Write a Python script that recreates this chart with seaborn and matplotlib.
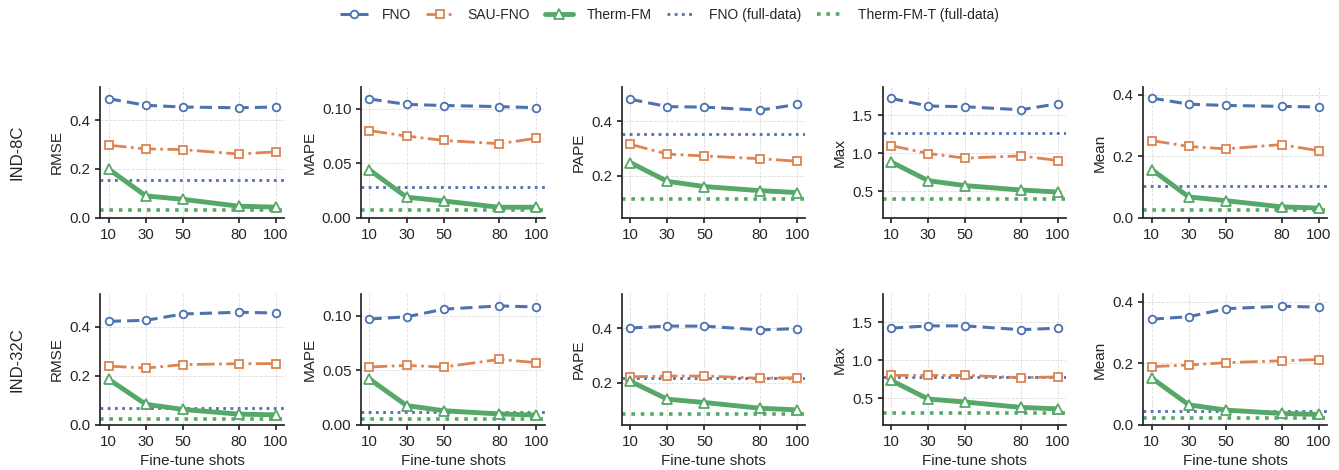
import numpy as np
import pandas as pd
import seaborn as sns
import matplotlib.pyplot as plt
from matplotlib.lines import Line2D

shots = [10, 30, 50, 80, 100]
metrics = ["RMSE", "MAPE", "PAPE", "Max", "Mean"]
settings = ["IND-8C", "IND-32C"]

# values per metric (RMSE, MAPE, PAPE, Max, Mean)
fno_8c = [[0.487, 0.460, 0.453, 0.450, 0.453],
          [0.109, 0.104, 0.103, 0.102, 0.101],
          [0.480, 0.453, 0.451, 0.440, 0.461],
          [1.72, 1.62, 1.61, 1.57, 1.65],
          [0.389, 0.369, 0.365, 0.362, 0.360]]
sau_8c = [[0.297, 0.282, 0.279, 0.261, 0.270],
          [0.080, 0.075, 0.071, 0.068, 0.073],
          [0.315, 0.279, 0.272, 0.262, 0.253],
          [1.10, 0.996, 0.935, 0.965, 0.904],
          [0.251, 0.232, 0.224, 0.238, 0.218]]
tfm_8c = [[0.199, 0.090, 0.076, 0.048, 0.044],
          [0.044, 0.019, 0.0155, 0.0098, 0.0098],
          [0.248, 0.179, 0.160, 0.145, 0.138],
          [0.887, 0.64, 0.574, 0.517, 0.49],
          [0.157, 0.068, 0.056, 0.036, 0.032]]
fno_full_8c = [0.154, 0.0287, 0.352, 1.26, 0.103]
tfmt_full_8c = [0.031, 0.007, 0.113, 0.40, 0.025]

fno_32c = [[0.423, 0.427, 0.453, 0.460, 0.457],
           [0.097, 0.099, 0.106, 0.109, 0.108],
           [0.400, 0.407, 0.407, 0.393, 0.398],
           [1.42, 1.45, 1.45, 1.40, 1.42],
           [0.343, 0.351, 0.377, 0.385, 0.382]]
sau_32c = [[0.240, 0.232, 0.246, 0.250, 0.250],
           [0.053, 0.0545, 0.053, 0.060, 0.057],
           [0.221, 0.224, 0.224, 0.216, 0.218],
           [0.80, 0.80, 0.80, 0.77, 0.78],
           [0.189, 0.194, 0.202, 0.208, 0.212]]
tfm_32c = [[0.186, 0.084, 0.063, 0.044, 0.041],
           [0.042, 0.0177, 0.013, 0.010, 0.009],
           [0.205, 0.139, 0.127, 0.106, 0.100],
           [0.735, 0.49, 0.45, 0.38, 0.36],
           [0.152, 0.065, 0.048, 0.037, 0.034]]
fno_full_32c = [0.068, 0.0119, 0.218, 0.78, 0.0446]
tfmt_full_32c = [0.026, 0.0058, 0.084, 0.30, 0.023]

ylims = [(0, 0.535), (0, 0.12), (0.045, 0.525), (0.15, 1.87), (0, 0.425)]

sns.set_theme(style="ticks")
plt.rcParams['font.family'] = ['Liberation Sans', 'DejaVu Sans']
pal = sns.color_palette("deep")
c_fno, c_sau, c_tfm = pal[0], pal[1], pal[2]

fno_style = dict(color=c_fno, ls=(0, (4, 2)), lw=2.2, marker='o', markersize=5.5,
                 markerfacecolor='white', markeredgecolor=c_fno, markeredgewidth=1.3)
sau_style = dict(color=c_sau, ls='-.', lw=2, marker='s', markersize=5.5,
                 markerfacecolor='white', markeredgecolor=c_sau, markeredgewidth=1.3)
tfm_style = dict(color=c_tfm, ls='-', lw=3.5, marker='^', markersize=7,
                 markerfacecolor='white', markeredgecolor=c_tfm, markeredgewidth=1.3)
fno_full_style = dict(color=c_fno, ls=(0, (1, 1.6)), lw=2)
tfmt_full_style = dict(color=c_tfm, ls=(0, (1, 1.6)), lw=2.6)

fig, axes = plt.subplots(2, 5, figsize=(13.39, 4.70), dpi=100)
fig.subplots_adjust(left=0.075, right=0.991, top=0.815, bottom=0.096,
                    wspace=0.42, hspace=0.58)

row_data = [(fno_8c, sau_8c, tfm_8c, fno_full_8c, tfmt_full_8c),
            (fno_32c, sau_32c, tfm_32c, fno_full_32c, tfmt_full_32c)]

for r, (fno, sau, tfm, fno_full, tfmt_full) in enumerate(row_data):
    for c, metric in enumerate(metrics):
        ax = axes[r, c]
        ax.axhline(fno_full[c], zorder=1, **fno_full_style)
        ax.axhline(tfmt_full[c], zorder=1, **tfmt_full_style)
        sns.lineplot(x=shots, y=fno[c], ax=ax, zorder=3, **fno_style)
        sns.lineplot(x=shots, y=sau[c], ax=ax, zorder=3, **sau_style)
        sns.lineplot(x=shots, y=tfm[c], ax=ax, zorder=4, **tfm_style)
        ax.set_ylim(*ylims[c])
        ax.set_xticks(shots)
        ax.set_ylabel(metric, fontsize=11)
        if r == 1:
            ax.set_xlabel("Fine-tune shots", fontsize=11)
        else:
            ax.set_xlabel("")
        ax.tick_params(labelsize=10.8, length=3.5)
        ax.grid(True, ls='--', lw=0.6, color='#dddddd')
        ax.set_axisbelow(True)
        sns.despine(ax=ax)

    pos = axes[r, 0].get_position()
    fig.text(0.013, (pos.y0 + pos.y1) / 2, settings[r], rotation=90,
             ha='center', va='center', fontsize=12)

handles = [Line2D([], [], **fno_style), Line2D([], [], **sau_style),
           Line2D([], [], **tfm_style), Line2D([], [], **fno_full_style),
           Line2D([], [], **tfmt_full_style)]
labels = ["FNO", "SAU-FNO", "Therm-FM", "FNO (full-data)", "Therm-FM-T (full-data)"]
fig.legend(handles, labels, loc='upper center', bbox_to_anchor=(0.5, 1.01),
           ncol=5, frameon=False, fontsize=10, handlelength=2.0,
           handletextpad=1.0, columnspacing=1.1)

plt.savefig("out.png", dpi=100)
